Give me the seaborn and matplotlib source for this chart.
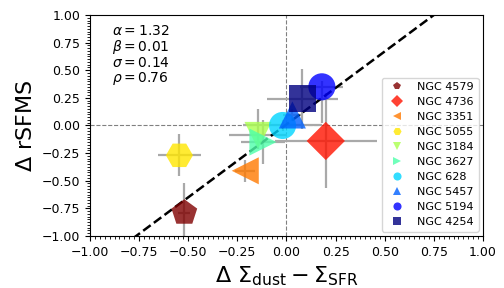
import numpy as np
import pandas as pd
import matplotlib
matplotlib.use("Agg")
import matplotlib.pyplot as plt
import seaborn as sns
from matplotlib.ticker import MultipleLocator

# ---- data ----
galaxies = ["NGC 4579", "NGC 4736", "NGC 3351", "NGC 5055", "NGC 3184",
            "NGC 3627", "NGC 628", "NGC 5457", "NGC 5194", "NGC 4254"]
delta_dust_sfr = [-0.52, 0.20, -0.21, -0.545, -0.145, -0.12, -0.02, 0.03, 0.18, 0.08]
delta_rsfms = [-0.79, -0.14, -0.41, -0.27, -0.09, -0.15, 0.00, 0.095, 0.35, 0.24]
xerr_vals = [0.03, 0.26, 0.05, 0.11, 0.15, 0.11, 0.20, 0.05, 0.11, 0.18]
yerr_low = [0.27, 0.43, 0.10, 0.19, 0.12, 0.20, 0.05, 0.05, 0.33, 0.27]
yerr_high = [0.27, 0.43, 0.10, 0.19, 0.24, 0.20, 0.05, 0.05, 0.05, 0.27]
marker_list = ["p", "D", "<", "H", "v", ">", "o", "^", "o", "s"]
fit_alpha, fit_beta, fit_sigma, fit_rho = 1.32, 0.01, 0.14, 0.76

df = pd.DataFrame({"name": galaxies, "dx": delta_dust_sfr, "dy": delta_rsfms})

cmap = plt.get_cmap("jet")
n = len(galaxies)
palette = {g: cmap(1 - i / (n - 1)) for i, g in enumerate(galaxies)}
markers = {g: m for g, m in zip(galaxies, marker_list)}

plt.rcParams["mathtext.fontset"] = "dejavusans"
fig = plt.figure(figsize=(5.04, 2.88), dpi=100)
ax = fig.add_axes([0.1786, 0.1806, 0.7797, 0.7674])

ax.axvline(0, color="gray", ls="--", lw=0.8, zorder=0)
ax.axhline(0, color="gray", ls="--", lw=0.8, zorder=0)

ax.errorbar(df["dx"], df["dy"], xerr=xerr_vals, yerr=[yerr_low, yerr_high],
            fmt="none", ecolor="#a9a9a9", elinewidth=1.6, zorder=1)

xl = np.linspace(-1, 1, 50)
ax.plot(xl, fit_alpha * xl + fit_beta, color="black", ls="--", lw=1.8, zorder=2)

sns.scatterplot(data=df, x="dx", y="dy", hue="name", style="name",
                hue_order=galaxies, style_order=galaxies,
                palette=palette, markers=markers, s=380, alpha=0.8,
                edgecolor="none", linewidth=0, zorder=3, ax=ax)

ax.set_xlim(-1, 1)
ax.set_ylim(-1, 1)
ax.xaxis.set_major_locator(MultipleLocator(0.25))
ax.yaxis.set_major_locator(MultipleLocator(0.25))
ax.xaxis.set_minor_locator(MultipleLocator(0.025))
ax.yaxis.set_minor_locator(MultipleLocator(0.025))
ax.tick_params(labelsize=9)

ax.set_xlabel(r"$\Delta\ \Sigma_{\rm dust} - \Sigma_{\rm SFR}$", fontsize=16)
ax.set_ylabel(r"$\Delta$ rSFMS", fontsize=16)

txt = "\n".join([rf"$\alpha = {fit_alpha:.2f}$", rf"$\beta = {fit_beta:.2f}$",
                 rf"$\sigma = {fit_sigma:.2f}$", rf"$\rho = {fit_rho:.2f}$"])
ax.text(0.055, 0.96, txt, transform=ax.transAxes, fontsize=10, va="top",
        linespacing=1.0)

leg = ax.legend(loc="lower right", fontsize=8, markerscale=0.3, title=None,
                labelspacing=0.45, borderaxespad=0.4)

fig.savefig("out.png", dpi=100)
